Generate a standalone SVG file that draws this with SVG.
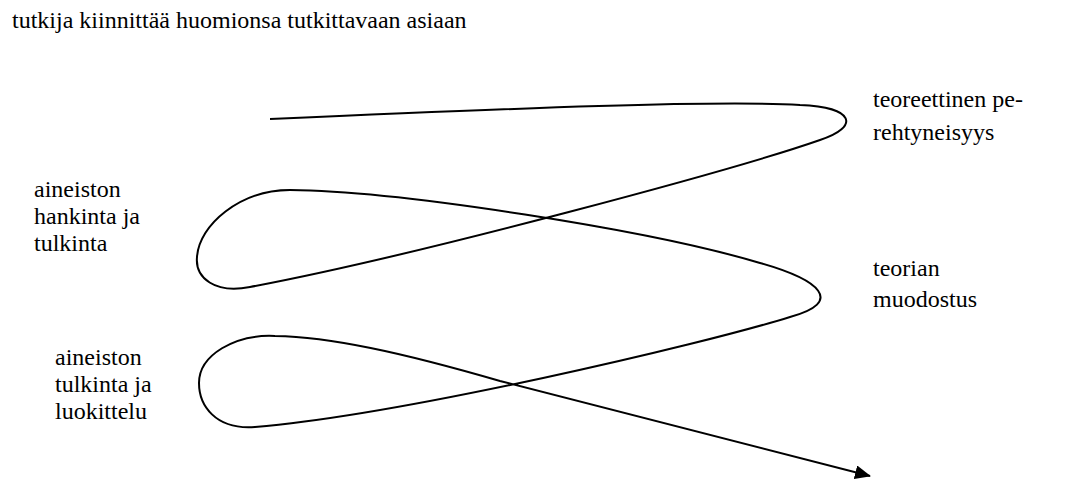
<svg xmlns="http://www.w3.org/2000/svg" width="1086" height="482" viewBox="0 0 1086 482">
  <defs>
    <marker id="arrow" viewBox="0 0 16 14" refX="15" refY="7" markerWidth="16" markerHeight="14" markerUnits="userSpaceOnUse" orient="auto">
      <path d="M0,0 L16,7 L0,14 Z" fill="#000"/>
    </marker>
  </defs>
  <rect width="1086" height="482" fill="#fff"/>
  <g id="heading" font-family="Liberation Serif" font-size="24" fill="#000">
    <text x="12" y="28">tutkija kiinnittää huomionsa tutkittavaan asiaan</text>
  </g>
  <g id="node-teoreettinen" font-family="Liberation Serif" font-size="24" fill="#000">
    <text x="873" y="107">teoreettinen pe-</text>
    <text x="873" y="140">rehtyneisyys</text>
  </g>
  <g id="node-hankinta" font-family="Liberation Serif" font-size="24" fill="#000">
    <text x="34" y="197">aineiston</text>
    <text x="34" y="224">hankinta ja</text>
    <text x="34" y="251">tulkinta</text>
  </g>
  <g id="node-teorian" font-family="Liberation Serif" font-size="24" fill="#000">
    <text x="873" y="276">teorian</text>
    <text x="873" y="307">muodostus</text>
  </g>
  <g id="node-luokittelu" font-family="Liberation Serif" font-size="24" fill="#000">
    <text x="55" y="365">aineiston</text>
    <text x="55" y="392">tulkinta ja</text>
    <text x="55" y="419">luokittelu</text>
  </g>
  <g id="connectors" fill="none" stroke="#000" stroke-width="2" stroke-linejoin="round">
    <path marker-end="url(#arrow)" d="M270,119 C520,108 720,100 800,105 C855,107 860,127 820,140 C740,168 420,255 250,287 C215,294 195,278 197,257 C199,225 240,190 290,190 C400,191 650,230 760,263 C820,280 845,302 790,317 C700,345 400,415 255,427 C215,430 199,405 199,383 C199,355 235,334 275,336 C330,337 400,352 500,381 L870,476"/>
  </g>
</svg>
